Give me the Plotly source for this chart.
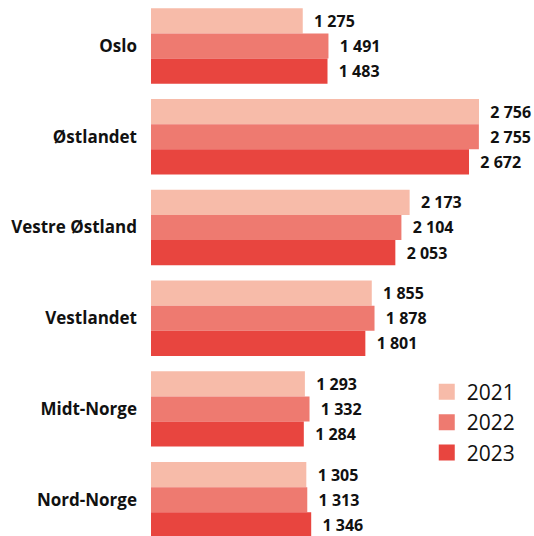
import plotly.graph_objects as go

regions = ["Oslo", "Østlandet", "Vestre Østland", "Vestlandet", "Midt-Norge", "Nord-Norge"]
years = ["2021", "2022", "2023"]
v2021 = [1275, 2756, 2173, 1855, 1293, 1305]
v2022 = [1491, 2755, 2104, 1878, 1332, 1313]
v2023 = [1483, 2672, 2053, 1801, 1284, 1346]
colors = ["#F7BBA9", "#EE7A70", "#E8453F"]

FONT = "Open Sans"

def fmt(v):
    s = f"{v:,}".replace(",", "\u00a0")
    return "\u00a0\u00a0" + s

fig = go.Figure()
for yr, vals, c in zip(years, [v2021, v2022, v2023], colors):
    fig.add_trace(go.Bar(
        y=regions, x=vals, orientation="h", name=yr,
        marker=dict(color=c, line=dict(width=0)),
        text=[fmt(v) for v in vals], textposition="outside",
        textfont=dict(family=FONT, size=16, color="#111111", weight="bold"),
        cliponaxis=False, showlegend=False, hoverinfo="skip",
    ))
    fig.add_trace(go.Scatter(
        x=[None], y=[None], mode="markers", name=yr,
        marker=dict(symbol="square", size=18, color=c),
    ))

fig.update_layout(
    width=534, height=536,
    margin=dict(l=151, r=0, t=0, b=0, autoexpand=False),
    paper_bgcolor="white", plot_bgcolor="white",
    barmode="group", bargap=0.17, bargroupgap=0,
    legend=dict(x=0.72, y=0.3065, xanchor="left", yanchor="top",
                font=dict(family=FONT, size=21, color="#111111"),
                bgcolor="rgba(0,0,0,0)", itemsizing="trace",
                tracegroupgap=0),
    font=dict(family=FONT),
)
fig.update_xaxes(range=[0, 3218], visible=False, showgrid=False, zeroline=False,
                 automargin=False)
fig.update_yaxes(autorange=False, range=[5.40, -0.507], showgrid=False, zeroline=False,
                 showline=False, ticks="", ticklabelstandoff=13, automargin=False,
                 tickfont=dict(family=FONT, size=17, color="#111111", weight="bold"))

fig.write_html("out.html", config={"displayModeBar": False},
               post_script="document.body.style.margin='0';document.body.style.overflow='hidden';")
